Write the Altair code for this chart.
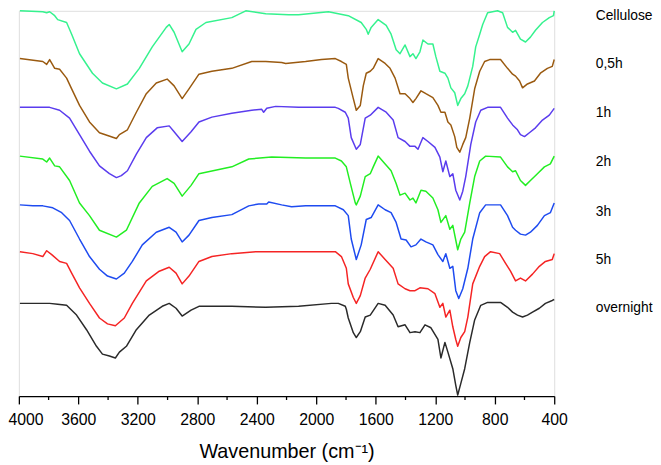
import altair as alt
import pandas as pd

SERIES = ["Cellulose", "0,5h", "1h", "2h", "3h", "5h", "overnight"]
COLORS = ["#35F28E", "#9A5A10", "#5A3CEE", "#22EE22", "#1E4BF0", "#F52424", "#2A2A2A"]

# wavenumber (cm-1) and offset transmittance (a.u.)
WN_CELL = [3993, 3839, 3813, 3793, 3759, 3739, 3679, 3645, 3592, 3505, 3438, 3344, 3270, 3190, 3103, 3009, 2989, 2956, 2902, 2856, 2809, 2742, 2568, 2474, 2340, 2186, 2119, 1918, 1785, 1698, 1664, 1651, 1631, 1584, 1530, 1497, 1463, 1437, 1403, 1370, 1350, 1330, 1303, 1283, 1249, 1216, 1196, 1169, 1135, 1115, 1095, 1069, 1049, 1028, 1002, 981, 948, 928, 901, 881, 848, 781, 747, 714, 680, 660, 627, 593, 560, 526, 479, 433, 405, 400]
T_CELL = [395, 394, 393, 394, 390, 386, 383, 371, 351, 331, 321, 315, 320, 336, 358, 378, 381, 373, 353, 361, 376, 383, 388, 395, 392, 391, 391, 394, 390, 383, 376, 371, 378, 386, 380, 371, 355, 351, 360, 348, 351, 346, 353, 365, 361, 361, 348, 333, 331, 326, 316, 311, 298, 305, 310, 318, 338, 358, 371, 381, 393, 395, 393, 378, 373, 375, 366, 363, 368, 375, 383, 388, 390, 395]

WN_05 = [3993, 3839, 3813, 3793, 3759, 3726, 3679, 3645, 3592, 3525, 3458, 3344, 3324, 3270, 3210, 3143, 3076, 3003, 2956, 2902, 2856, 2789, 2702, 2568, 2434, 2340, 2233, 2206, 2072, 1965, 1872, 1831, 1798, 1785, 1751, 1731, 1704, 1684, 1664, 1637, 1617, 1584, 1537, 1504, 1470, 1437, 1403, 1370, 1350, 1330, 1296, 1263, 1216, 1182, 1162, 1135, 1115, 1095, 1069, 1055, 1035, 1015, 995, 968, 935, 901, 868, 834, 761, 714, 680, 660, 633, 613, 580, 533, 493, 446, 413, 400]
T_05 = [346, 343, 340, 345, 336, 335, 326, 315, 298, 281, 270, 264, 268, 273, 291, 310, 321, 325, 318, 305, 315, 330, 333, 336, 343, 343, 342, 341, 343, 345, 346, 343, 340, 326, 305, 293, 298, 318, 331, 333, 336, 346, 341, 336, 326, 310, 310, 305, 301, 305, 313, 310, 306, 298, 291, 291, 281, 278, 266, 255, 250, 258, 265, 285, 315, 333, 343, 345, 345, 336, 330, 328, 323, 316, 320, 323, 331, 336, 338, 345]

WN_1 = [3993, 3793, 3726, 3659, 3592, 3525, 3458, 3391, 3344, 3311, 3270, 3210, 3143, 3070, 2989, 2956, 2902, 2842, 2789, 2702, 2568, 2434, 2367, 2354, 2333, 2273, 2119, 1872, 1852, 1805, 1785, 1765, 1731, 1704, 1671, 1637, 1584, 1530, 1483, 1450, 1403, 1370, 1336, 1316, 1283, 1249, 1202, 1169, 1149, 1129, 1102, 1082, 1062, 1035, 1015, 995, 961, 928, 894, 848, 761, 714, 680, 647, 627, 600, 567, 526, 479, 433, 400]
T_1 = [296, 296, 293, 285, 268, 251, 236, 228, 224, 226, 231, 248, 265, 275, 277, 271, 261, 271, 281, 286, 290, 293, 294, 291, 295, 297, 296, 296, 295, 291, 285, 265, 253, 258, 285, 288, 296, 291, 283, 265, 261, 256, 256, 253, 265, 261, 255, 245, 230, 241, 225, 228, 211, 201, 210, 225, 258, 281, 293, 296, 296, 285, 278, 273, 268, 266, 270, 275, 283, 288, 295]

WN_2 = [3993, 3839, 3813, 3793, 3759, 3726, 3659, 3592, 3525, 3458, 3344, 3277, 3190, 3103, 3003, 2956, 2902, 2842, 2789, 2568, 2454, 2300, 2072, 1872, 1831, 1798, 1771, 1738, 1731, 1704, 1671, 1637, 1617, 1584, 1537, 1497, 1463, 1437, 1403, 1370, 1350, 1330, 1296, 1263, 1216, 1182, 1162, 1129, 1102, 1082, 1049, 1028, 1002, 968, 935, 901, 861, 761, 714, 680, 660, 627, 593, 560, 513, 466, 426, 400]
T_2 = [246, 243, 240, 244, 236, 235, 221, 198, 185, 170, 163, 170, 198, 215, 223, 218, 205, 216, 228, 235, 243, 245, 244, 244, 241, 235, 218, 198, 196, 205, 225, 228, 235, 246, 238, 231, 218, 206, 208, 201, 203, 198, 211, 210, 203, 191, 178, 185, 171, 175, 150, 161, 168, 198, 225, 241, 246, 245, 235, 230, 231, 221, 216, 221, 228, 235, 238, 246]

WN_3 = [3993, 3906, 3839, 3772, 3712, 3659, 3592, 3525, 3458, 3404, 3344, 3291, 3237, 3170, 3076, 2989, 2943, 2902, 2856, 2789, 2702, 2568, 2454, 2387, 2333, 2320, 2233, 2166, 2072, 1872, 1818, 1785, 1765, 1731, 1698, 1664, 1631, 1584, 1537, 1497, 1463, 1430, 1396, 1363, 1330, 1296, 1263, 1216, 1182, 1149, 1129, 1102, 1082, 1062, 1042, 1015, 981, 948, 901, 861, 761, 714, 680, 660, 627, 593, 560, 513, 466, 426, 400]
T_3 = [196, 195, 195, 193, 188, 180, 161, 143, 130, 123, 120, 126, 138, 155, 168, 173, 168, 158, 165, 180, 183, 186, 195, 197, 197, 199, 196, 194, 195, 195, 191, 185, 161, 140, 155, 181, 183, 196, 191, 188, 178, 161, 160, 153, 155, 161, 158, 155, 145, 138, 146, 131, 133, 108, 100, 110, 131, 161, 188, 196, 196, 185, 173, 170, 166, 165, 168, 175, 185, 188, 198]

WN_5 = [3993, 3906, 3839, 3813, 3779, 3726, 3679, 3645, 3592, 3525, 3458, 3404, 3351, 3291, 3237, 3143, 3056, 2989, 2943, 2902, 2856, 2789, 2702, 2568, 2407, 1872, 1831, 1798, 1785, 1751, 1731, 1704, 1671, 1637, 1584, 1537, 1483, 1450, 1403, 1370, 1336, 1303, 1249, 1202, 1169, 1149, 1129, 1102, 1082, 1062, 1049, 1028, 1002, 981, 948, 901, 868, 828, 767, 727, 694, 660, 627, 593, 546, 500, 459, 413, 400]
T_5 = [148, 146, 143, 149, 145, 138, 136, 126, 111, 95, 80, 74, 72, 80, 95, 118, 128, 132, 126, 115, 123, 138, 143, 146, 148, 148, 143, 131, 115, 101, 95, 103, 121, 130, 148, 140, 131, 115, 110, 108, 108, 111, 110, 105, 91, 95, 81, 88, 71, 58, 51, 60, 66, 81, 115, 133, 143, 148, 146, 136, 128, 118, 121, 118, 125, 133, 138, 140, 146]

WN_ON = [3993, 3793, 3739, 3679, 3612, 3545, 3478, 3438, 3391, 3351, 3324, 3277, 3210, 3123, 3036, 2989, 2943, 2902, 2842, 2789, 2568, 2340, 2119, 1898, 1852, 1805, 1798, 1785, 1751, 1731, 1704, 1671, 1637, 1584, 1537, 1483, 1450, 1403, 1370, 1336, 1303, 1269, 1229, 1182, 1162, 1135, 1115, 1082, 1062, 1049, 1028, 1002, 968, 935, 894, 848, 761, 714, 680, 647, 613, 580, 546, 500, 459, 413, 400]
T_ON = [95, 95, 94, 93, 83, 68, 51, 43, 41, 39, 45, 51, 68, 83, 92, 95, 90, 82, 88, 92, 92, 91, 92, 95, 95, 92, 89, 80, 65, 60, 66, 81, 83, 95, 93, 83, 71, 73, 65, 66, 65, 73, 70, 58, 39, 55, 45, 28, 11, 1, 13, 28, 55, 78, 93, 96, 96, 91, 86, 83, 81, 83, 86, 90, 95, 98, 99]

LABEL_T = [390, 340, 290, 240, 189, 139, 90]
MAJOR = [4000, 3600, 3200, 2800, 2400, 2000, 1600, 1200, 800, 400]
MINOR = [3800, 3400, 3000, 2600, 2200, 1800, 1400, 1000, 600]

WNS = [WN_CELL, WN_05, WN_1, WN_2, WN_3, WN_5, WN_ON]
TS = [T_CELL, T_05, T_1, T_2, T_3, T_5, T_ON]

rows = []
for name, wn, t in zip(SERIES, WNS, TS):
    for a, b in zip(wn, t):
        rows.append({"series": name, "wavenumber": a, "value": b})
df = pd.DataFrame(rows)

FONT = "Liberation Sans"
xscale = alt.Scale(domain=[4000, 400], nice=False, zero=False)
yscale = alt.Scale(domain=[0, 395], nice=False, zero=False)

xaxis = alt.Axis(values=MAJOR, format="d", title="Wavenumber (cm⁻¹)",
                 tickSize=8, tickWidth=1.3, tickColor="black",
                 domainColor="black", domainWidth=1.3, grid=False,
                 labelFont=FONT, labelFontSize=16, labelColor="black",
                 labelPadding=8, labelFlush=False, labelOverlap=False,
                 labelAlign=alt.ExprRef(expr="datum.value == 4000 ? 'left' : 'center'"),
                 labelOffset=alt.ExprRef(expr="datum.value == 4000 ? -11 : 0"),
                 titleFont=FONT, titleFontSize=20, titleFontWeight="normal",
                 titleColor="black", titlePadding=14)

lines = alt.Chart(df).mark_line(strokeWidth=1.5, strokeJoin="round").encode(
    x=alt.X("wavenumber:Q", scale=xscale, axis=xaxis),
    y=alt.Y("value:Q", scale=yscale, axis=None),
    color=alt.Color("series:N", scale=alt.Scale(domain=SERIES, range=COLORS), legend=None),
)

minor = alt.Chart(pd.DataFrame({"wavenumber": MINOR})).mark_rule(
    color="black", strokeWidth=1.3
).encode(
    x=alt.X("wavenumber:Q", scale=xscale, axis=xaxis),
    y=alt.value(390), y2=alt.value(394),
)

labels = alt.Chart(pd.DataFrame({"label": SERIES, "value": LABEL_T})).mark_text(
    align="left", baseline="middle", font=FONT, fontSize=14, color="black"
).encode(
    x=alt.value(584),
    y=alt.Y("value:Q", scale=yscale, axis=None),
    text="label:N",
)

chart = alt.layer(lines, minor, labels).properties(
    width=542, height=390,
    padding={"left": 11, "top": 0, "right": 100, "bottom": 68},
    autosize=alt.AutoSizeParams(type="none"),
).configure_view(stroke=None).configure(background="white")

chart.save("out.html", embed_options={"renderer": "svg", "actions": False})
